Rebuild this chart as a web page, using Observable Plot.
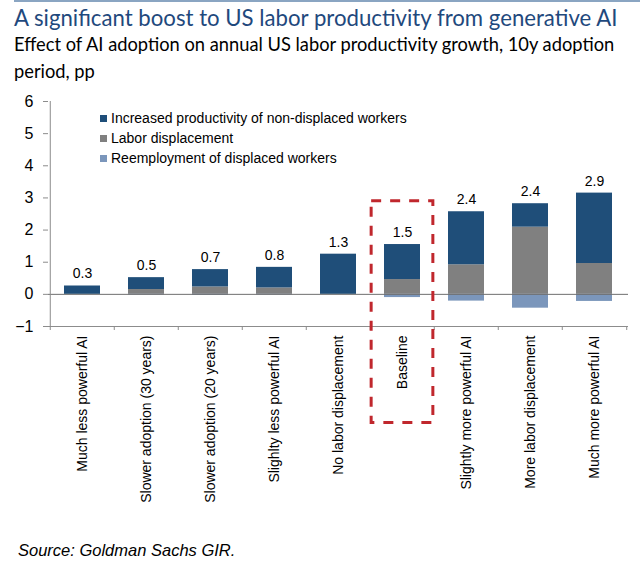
<!DOCTYPE html>
<html><head><meta charset="utf-8">
<script src="https://cdn.jsdelivr.net/npm/d3@7"></script>
<script src="https://cdn.jsdelivr.net/npm/@observablehq/plot@0.6"></script>
<style>
body{margin:0;background:#fff;}
#wrap{position:relative;width:640px;height:564px;overflow:hidden;font-family:"Liberation Sans",Arial,sans-serif;}
#rule{position:absolute;left:14px;right:0;top:0;height:0;border-top:2px solid #8aa5c2;}
#title{position:absolute;left:14px;top:4px;font-family:Lato;font-size:22.2px;line-height:27px;color:#1f497d;white-space:nowrap;}
#subtitle{position:absolute;left:14px;top:31px;font-family:Lato;font-size:18.3px;line-height:27px;color:#000;width:610px;}
#chart{position:absolute;left:0;top:90px;}
#legend{position:absolute;left:100px;top:108px;font-family:"Liberation Sans";font-size:14px;line-height:20px;color:#000;}
#legend .item{display:flex;align-items:center;height:20px;}
#legend .sw{width:7px;height:7px;margin-right:4px;}
#source{position:absolute;left:18px;top:541px;font-family:"Liberation Sans";font-style:italic;font-size:16.5px;color:#000;}
</style></head>
<body>
<div id="wrap">
  <div id="rule"></div>
  <div id="title">A significant boost to US labor productivity from generative AI</div>
  <div id="subtitle">Effect of AI adoption on annual US labor productivity growth, 10y adoption period, pp</div>
  <div id="chart"></div>
  <div id="legend"></div>
  <div id="source">Source: Goldman Sachs GIR.</div>
</div>
<script>
const categories = [
  "Much less powerful AI",
  "Slower adoption (30 years)",
  "Slower adoption (20 years)",
  "Slighlty less powerful AI",
  "No labor displacement",
  "Baseline",
  "Slightly more powerful AI",
  "More labor displacement",
  "Much more powerful AI"
];
const productivity = [0.26, 0.37, 0.54, 0.64, 1.25, 1.09, 1.65, 0.73, 2.19];
const displacement = [0.00, 0.15, 0.23, 0.20, 0.00, 0.46, 0.92, 2.09, 0.96];
const reemployment = [0.00, -0.02, -0.03, -0.02, 0.00, -0.10, -0.21, -0.43, -0.22];
const totalLabels = ["0.3", "0.5", "0.7", "0.8", "1.3", "1.5", "2.4", "2.4", "2.9"];
const yTicks = [-1, 0, 1, 2, 3, 4, 5, 6];
const seriesNames = [
  "Increased productivity of non-displaced workers",
  "Labor displacement",
  "Reemployment of displaced workers"
];
const seriesColors = ["#1f4e79", "#808080", "#7b96bb"];
const highlight = {category: "Baseline", top: 2.9, bottom: -4.0};

// long table (stack order: displacement first, then productivity on top)
const rows = [];
categories.forEach((c, i) => {
  rows.push({category: c, series: seriesNames[1], value: displacement[i]});
  rows.push({category: c, series: seriesNames[0], value: productivity[i]});
  rows.push({category: c, series: seriesNames[2], value: reemployment[i]});
});

const W = 640, H = 440, mL = 48, mR = 12, mT = 11, mB = 204;
const pad = 0.43;
const step = (W - mL - mR) / categories.length;
const yMin = yTicks[0], yMax = yTicks[yTicks.length - 1];
const unitPx = (H - mT - mB) / (yMax - yMin);
const tickLen = 4 / unitPx;

const chart = Plot.plot({
  width: W, height: H,
  marginLeft: mL, marginRight: mR, marginTop: mT, marginBottom: mB,
  style: {fontFamily: "Liberation Sans", fontSize: "14px", color: "#000", background: "transparent"},
  x: {domain: categories, paddingInner: pad, paddingOuter: pad / 2, label: null},
  y: {domain: [yMin, yMax], label: null},
  color: {domain: seriesNames, range: seriesColors},
  marks: [
    Plot.barY(rows, Plot.stackY({x: "category", y: "value", fill: "series", order: null})),
    Plot.ruleY([0], {stroke: "#6e6e6e", strokeWidth: 1}),
    Plot.ruleY([yMin], {stroke: "#8c8c8c", strokeWidth: 1}),
    Plot.ruleX([categories[0]], {dx: -step / 2, y1: yMin, y2: yMax, stroke: "#8c8c8c"}),
    Plot.ruleX(categories, {dx: -step / 2, y1: yMin, y2: yMin - tickLen, stroke: "#8c8c8c"}),
    Plot.ruleX([categories[categories.length - 1]], {dx: step / 2, y1: yMin, y2: yMin - tickLen, stroke: "#8c8c8c"}),
    Plot.axisY({ticks: yTicks, tickFormat: d3.format("d"), tickSize: 5, tickPadding: 10, fontSize: 16, stroke: "#8c8c8c", fill: "#000", label: null}),
    Plot.axisX({tickRotate: -90, tickSize: 0, tickPadding: 9, fontSize: 14, fill: "#000", label: null}),
    Plot.text(categories, {
      x: d => d,
      y: (d, i) => productivity[i] + displacement[i],
      text: (d, i) => totalLabels[i],
      dy: -12, fontSize: 14, fill: "#000"
    }),
    Plot.barY([highlight], {
      x: "category", y1: "top", y2: "bottom",
      fill: "none", stroke: "#c0272d", strokeWidth: 3, strokeDasharray: "10,9",
      insetLeft: -step * pad / 2 + 1, insetRight: -step * pad / 2 + 1
    })
  ]
});
document.getElementById("chart").appendChild(chart);

const legend = document.getElementById("legend");
seriesNames.forEach((name, i) => {
  const item = document.createElement("div");
  item.className = "item";
  const sw = document.createElement("span");
  sw.className = "sw";
  sw.style.background = seriesColors[i];
  const t = document.createElement("span");
  t.textContent = name;
  item.appendChild(sw); item.appendChild(t);
  legend.appendChild(item);
});
</script>
</body></html>
